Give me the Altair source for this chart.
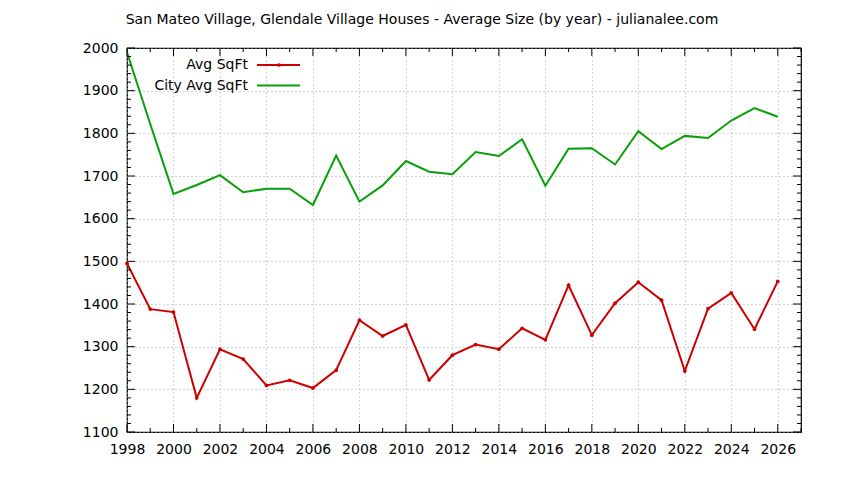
import altair as alt
import pandas as pd

years = list(range(1998, 2027))
avg_sqft = [1495, 1388, 1381, 1180, 1294, 1271, 1209, 1221, 1203, 1245,
            1362, 1325, 1351, 1222, 1280, 1305, 1294, 1343, 1316, 1444,
            1327, 1402, 1451, 1409, 1243, 1389, 1426, 1341, 1453]
city_avg = [1990, 1822, 1658, 1679, 1702, 1662, 1670, 1670, 1632, 1748,
            1640, 1678, 1735, 1710, 1704, 1756, 1747, 1786, 1677, 1764,
            1765, 1727, 1805, 1763, 1794, 1789, 1830, 1859, 1839]
series_names = ["Avg SqFt", "City Avg SqFt"]
series_colors = ["#cc0000", "#08a008"]
title_text = "San Mateo Village, Glendale Village Houses - Average Size (by year) - julianalee.com"

y_major = list(range(1100, 2001, 100))
y_minor = [v for v in range(1100, 2001, 20) if v % 100 != 0]
x_major = [y for y in range(1998, 2028) if y % 2 == 0]
x_minor = [y for y in range(1998, 2028) if y % 2 == 1]

W, H = 674, 384
FONT = "DejaVu Sans"
FS = 14

df = pd.DataFrame({
    "year": years * 2,
    "value": avg_sqft + city_avg,
    "series": [series_names[0]] * len(years) + [series_names[1]] * len(years),
})

xs = alt.Scale(domain=[1998, 2027], nice=False, zero=False)
ys = alt.Scale(domain=[1100, 2000], nice=False, zero=False)

base = alt.Chart(df)

lines = base.mark_line(strokeWidth=2, clip=True).encode(
    x=alt.X("year:Q", scale=xs,
            axis=alt.Axis(values=list(range(1998, 2028)), format="d",
                          labelExpr="datum.value % 2 == 0 ? datum.label : ''",
                          title=None, grid=True, gridDash=[1, 3], gridColor="#aaaaaa",
                          ticks=False, domain=False, labelPadding=10,
                          labelFont=FONT, labelFontSize=FS, labelColor="black",
                          labelFlush=False)),
    y=alt.Y("value:Q", scale=ys,
            axis=alt.Axis(values=y_major, format="d", title=None, grid=True,
                          gridDash=[1, 3], gridColor="#aaaaaa", ticks=False,
                          domain=False, labelPadding=9, labelFont=FONT,
                          labelFontSize=FS, labelColor="black")),
    color=alt.Color("series:N", scale=alt.Scale(domain=series_names, range=series_colors),
                    legend=None),
)

pts = alt.Chart(df[df.series == series_names[0]]).mark_point(
    filled=True, size=14, color=series_colors[0], opacity=1).encode(
    x=alt.X("year:Q", scale=xs), y=alt.Y("value:Q", scale=ys))

def hticks(vals, length):
    d = pd.DataFrame({"v": vals})
    l = alt.Chart(d).mark_rule(color="black", strokeWidth=1).encode(
        y=alt.Y("v:Q", scale=ys), x=alt.value(0), x2=alt.value(length))
    r = alt.Chart(d).mark_rule(color="black", strokeWidth=1).encode(
        y=alt.Y("v:Q", scale=ys), x=alt.value(W - length), x2=alt.value(W))
    return l + r

def vticks(vals, length):
    d = pd.DataFrame({"v": vals})
    b = alt.Chart(d).mark_rule(color="black", strokeWidth=1).encode(
        x=alt.X("v:Q", scale=xs), y=alt.value(H), y2=alt.value(H - length))
    t = alt.Chart(d).mark_rule(color="black", strokeWidth=1).encode(
        x=alt.X("v:Q", scale=xs), y=alt.value(0), y2=alt.value(length))
    return b + t

ticks = hticks(y_major, 8) + hticks(y_minor, 4) + vticks(x_major, 8) + vticks(x_minor, 4)

leg_df = pd.DataFrame({"label": series_names})
leg_text1 = alt.Chart(leg_df.iloc[[0]]).mark_text(
    align="right", baseline="middle", font=FONT, fontSize=FS, color="black").encode(
    text="label:N", x=alt.value(121), y=alt.value(17))
leg_text2 = alt.Chart(leg_df.iloc[[1]]).mark_text(
    align="right", baseline="middle", font=FONT, fontSize=FS, color="black").encode(
    text="label:N", x=alt.value(121), y=alt.value(37.5))
leg_line1 = alt.Chart(leg_df.iloc[[0]]).mark_rule(color=series_colors[0], strokeWidth=2).encode(
    x=alt.value(130), x2=alt.value(173), y=alt.value(17))
leg_line2 = alt.Chart(leg_df.iloc[[1]]).mark_rule(color=series_colors[1], strokeWidth=2).encode(
    x=alt.value(130), x2=alt.value(173), y=alt.value(37.5))
leg_pt = alt.Chart(leg_df.iloc[[0]]).mark_point(
    filled=True, size=14, color=series_colors[0], opacity=1).encode(
    x=alt.value(152), y=alt.value(17))

chart = alt.layer(
    lines, pts, ticks, leg_line1, leg_line2, leg_pt, leg_text1, leg_text2
).properties(
    width=W, height=H,
    title=alt.TitleParams(text=title_text, font=FONT, fontSize=FS, fontWeight="normal",
                          color="black", anchor="middle", dx=-42, offset=14),
    autosize=alt.AutoSizeParams(type="none"),
    padding={"left": 119, "top": 40, "right": 30, "bottom": 40},
    background="white",
).configure_view(stroke="black", strokeWidth=1.2)

chart.save("out.html", embed_options={"renderer": "svg", "actions": False})
